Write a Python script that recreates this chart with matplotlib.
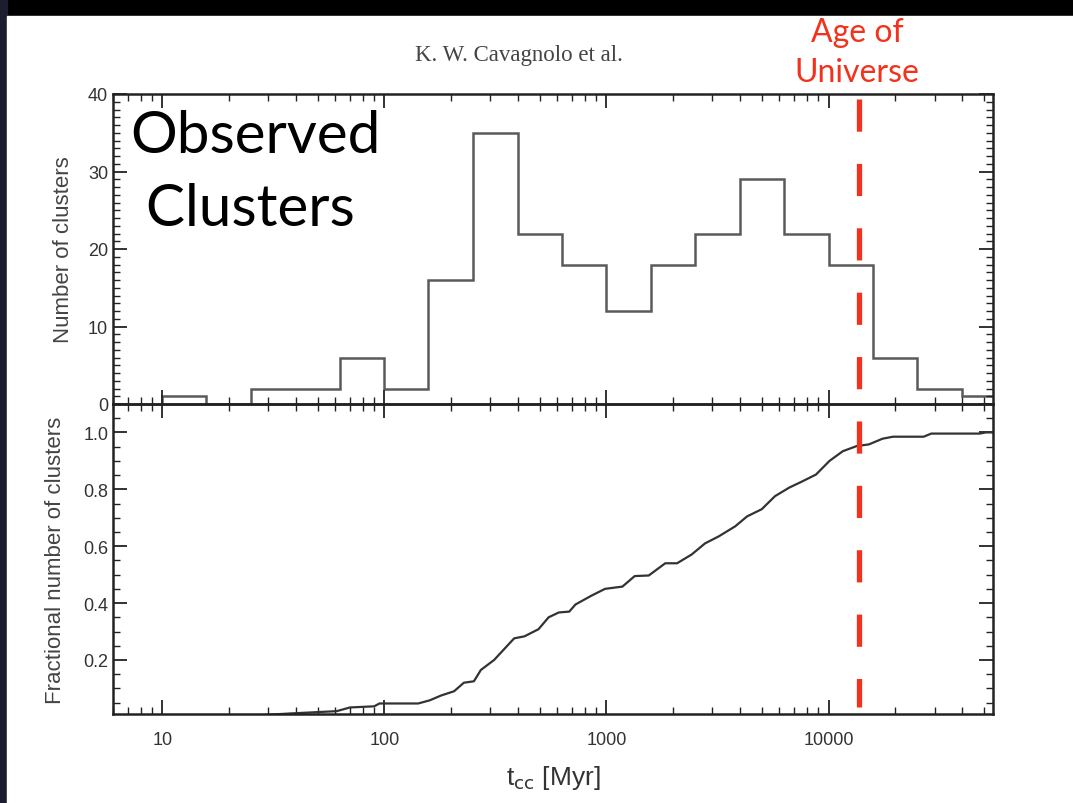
import matplotlib
matplotlib.use("Agg")
import matplotlib.pyplot as plt
import matplotlib.ticker as ticker
import matplotlib.transforms as transforms
from matplotlib.patches import Rectangle
from matplotlib.lines import Line2D

# histogram of cooling times (bin edges in Myr, counts)
bin_edges = [10, 15.8, 25.1, 39.8, 63.1, 100, 158, 251, 398, 631, 1000,
             1585, 2512, 3981, 6310, 10000, 15849, 25119, 39811, 63096]
counts = [1, 0, 2, 2, 6, 2, 16, 35, 22, 18, 12, 18, 22, 29, 22, 18, 6, 2, 1]

# cumulative fraction
cum_t = [6, 25, 38, 61, 70, 90, 95, 142, 160, 180, 206, 228, 253, 272, 312,
         384, 427, 494, 549, 610, 680, 725, 860, 985, 1180, 1340, 1550, 1840,
         2080, 2420, 2780, 3210, 3800, 4300, 5000, 5740, 6650, 7620, 8780,
         10100, 11590, 13370, 15200, 17500, 19500, 26800, 29000, 48000, 51000,
         60000]
cum_f = [0.0, 0.004, 0.012, 0.02, 0.033, 0.037, 0.047, 0.047, 0.058, 0.075,
         0.09, 0.12, 0.125, 0.165, 0.20, 0.276, 0.283, 0.308, 0.35, 0.367,
         0.37, 0.395, 0.427, 0.45, 0.458, 0.495, 0.497, 0.54, 0.54, 0.571,
         0.61, 0.635, 0.67, 0.705, 0.73, 0.776, 0.806, 0.828, 0.852, 0.90,
         0.934, 0.952, 0.958, 0.978, 0.985, 0.985, 0.996, 0.996, 1.0, 1.0]

age_universe = 13700  # Myr
x_ticks = [10, 100, 1000, 10000]
y_ticks_top = [0, 10, 20, 30, 40]
y_ticks_bot = [0.2, 0.4, 0.6, 0.8, 1.0]

W, H = 1073, 804
fig = plt.figure(figsize=(W / 100, H / 100), dpi=100)
fig.patch.set_facecolor("black")

# slide background: dark left strip, white page (top bar stays black)
fig.patches.append(Rectangle((0, 0), 7 / W, 1, transform=fig.transFigure,
                             color="#1d1d30", zorder=-10))
fig.patches.append(Rectangle((7 / W, 0), 1, (H - 17) / H, transform=fig.transFigure,
                             color="white", zorder=-10))

sans = "Liberation Sans"

left, width = 113 / W, 880 / W
ax_top = fig.add_axes([left, 1 - 405 / H, width, 310 / H])
ax_bot = fig.add_axes([left, 1 - 715 / H, width, 310 / H], sharex=ax_top)

tick_col = "#333333"
for ax in (ax_top, ax_bot):
    ax.set_xscale("log")
    for s in ax.spines.values():
        s.set_linewidth(1.8)
        s.set_color("#222222")
    ax.tick_params(which="both", direction="in", top=True, right=True,
                   colors="#222222", labelcolor=tick_col, labelsize=13)
    ax.tick_params(which="major", length=10, width=1.3)
    ax.tick_params(which="minor", length=5, width=1.0)
    ax.set_facecolor("none")

ax_top.set_xlim(6, 55000)

# upper panel: histogram
ax_top.stairs(counts, bin_edges, color="#5a5a5a", linewidth=1.8)
ax_top.set_ylim(0, 40)
ax_top.set_yticks(y_ticks_top)
ax_top.yaxis.set_minor_locator(ticker.MultipleLocator(1))
ax_top.tick_params(labelbottom=False)
ax_top.set_ylabel("Number of clusters", fontsize=16, color="#444444",
                  family=sans, labelpad=10)

# lower panel: cumulative distribution
ax_bot.plot(cum_t, cum_f, color="#333333", linewidth=1.6)
ax_bot.set_ylim(0.01, 1.1)
ax_bot.set_yticks(y_ticks_bot)
ax_bot.set_yticklabels([f"{v:.1f}" for v in y_ticks_bot])
ax_bot.yaxis.set_minor_locator(ticker.MultipleLocator(0.05))
ax_bot.set_xticks(x_ticks)
ax_bot.xaxis.set_major_formatter(ticker.FuncFormatter(lambda v, p: f"{v:g}"))
ax_bot.tick_params(axis="x", pad=12)
ax_bot.set_ylabel("Fractional number of clusters", fontsize=16, color="#444444",
                  family=sans, labelpad=12)
ax_bot.set_xlabel(r"t$_{\rm cc}$ [Myr]", fontsize=19, color="#333333",
                  family=sans, labelpad=11)

for lab in ax_top.get_yticklabels() + ax_bot.get_yticklabels() + ax_bot.get_xticklabels():
    lab.set_family(sans)

# age of universe line spanning both panels
red = "#f2321c"
blend = transforms.blended_transform_factory(ax_bot.transData, fig.transFigure)
fig.add_artist(Line2D([age_universe, age_universe], [1 - 100 / H, 1 - 708 / H],
                      transform=blend, color=red, linewidth=3.8,
                      dashes=(6.1, 6.1), solid_capstyle="butt",
                      dash_capstyle="butt", zorder=5))
fig.text(857 / W, 1 - 53 / H, "Age of\nUniverse", color=red,
         fontsize=23, family="Lato", ha="center", va="center", linespacing=1.45)

fig.text(519 / W, 1 - 56 / H, "K. W. Cavagnolo et al.", fontsize=16.5,
         family="Liberation Serif", color="#444444", ha="center", va="center")

ax_top.text(0.02, 0.95, "Observed\n Clusters", transform=ax_top.transAxes,
            fontsize=42, family="Lato", color="black",
            ha="left", va="top", linespacing=1.45)

fig.savefig("out.png", dpi=100, facecolor=fig.get_facecolor())
